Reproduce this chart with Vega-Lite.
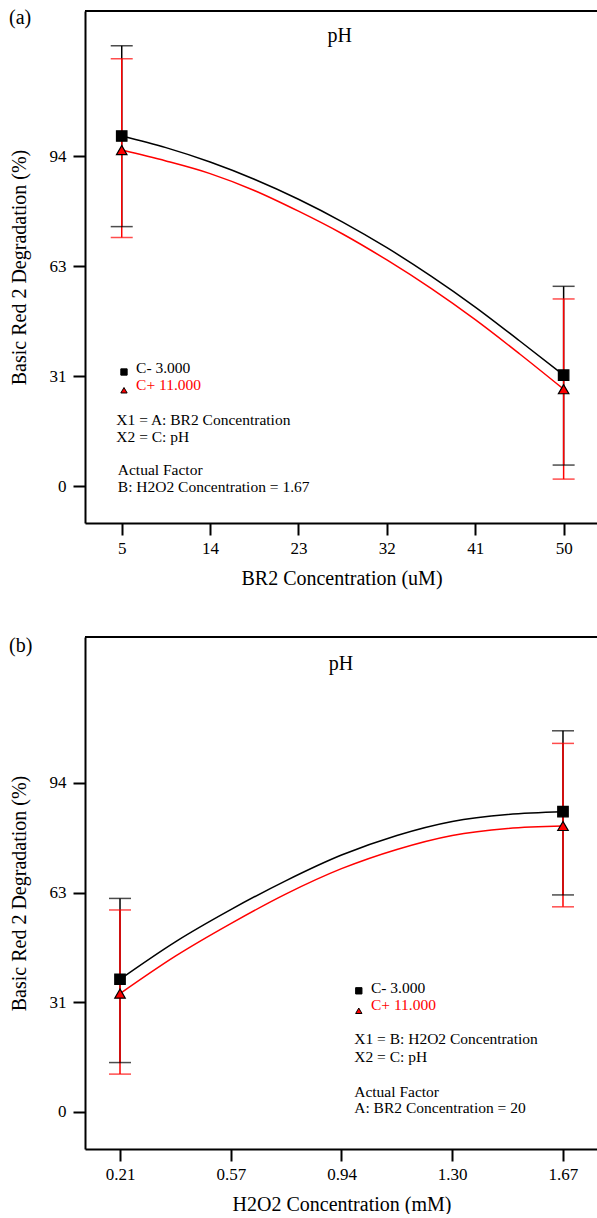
{
  "$schema": "https://vega.github.io/schema/vega-lite/v6.json",
  "background": "white",
  "autosize": {"type": "pad"},
  "padding": {"left": 8, "top": 8, "right": 0, "bottom": 0},
  "spacing": 48,
  "config": {
    "font": "Liberation Serif",
    "view": {"stroke": null},
    "axis": {
      "grid": false,
      "domain": true,
      "domainColor": "black",
      "domainWidth": 2,
      "tickColor": "black",
      "tickWidth": 2,
      "tickSize": 12,
      "labelFont": "Liberation Serif",
      "labelFontSize": 17,
      "labelColor": "black",
      "labelPadding": 7,
      "titleFont": "Liberation Serif",
      "titleFontSize": 20,
      "titleFontWeight": "normal",
      "titleColor": "black"
    },
    "axisY": {"titlePadding": 20},
    "axisX": {"titlePadding": 12, "labelPadding": 5}
  },
  "datasets": {
    "curveA": [
      {"x": 5, "y": 99.7, "s": "C-"}, {"x": 9.5, "y": 96.4, "s": "C-"}, {"x": 14, "y": 92.3, "s": "C-"},
      {"x": 18.5, "y": 87.4, "s": "C-"}, {"x": 23, "y": 81.7, "s": "C-"}, {"x": 27.5, "y": 75.2, "s": "C-"},
      {"x": 32, "y": 67.9, "s": "C-"}, {"x": 36.5, "y": 59.8, "s": "C-"}, {"x": 41, "y": 51.0, "s": "C-"},
      {"x": 45.5, "y": 41.4, "s": "C-"}, {"x": 50, "y": 31.6, "s": "C-"},
      {"x": 5, "y": 95.7, "s": "C+"}, {"x": 9.5, "y": 92.6, "s": "C+"}, {"x": 14, "y": 89.0, "s": "C+"},
      {"x": 18.5, "y": 84.2, "s": "C+"}, {"x": 23, "y": 78.3, "s": "C+"}, {"x": 27.5, "y": 71.8, "s": "C+"},
      {"x": 32, "y": 64.4, "s": "C+"}, {"x": 36.5, "y": 56.3, "s": "C+"}, {"x": 41, "y": 47.4, "s": "C+"},
      {"x": 45.5, "y": 37.7, "s": "C+"}, {"x": 50, "y": 27.6, "s": "C+"}
    ],
    "barA": [
      {"x": 5, "y": 99.7, "lo": 73.9, "hi": 125.4, "s": "C-"},
      {"x": 50, "y": 31.6, "lo": 6.0, "hi": 56.9, "s": "C-"},
      {"x": 5, "y": 95.7, "lo": 70.8, "hi": 121.7, "s": "C+"},
      {"x": 50, "y": 27.6, "lo": 2.0, "hi": 53.3, "s": "C+"}
    ],
    "keyA": [
      {"x": 5.23, "y": 32.5, "s": "C-"},
      {"x": 5.23, "y": 27.3, "s": "C+"}
    ],
    "noteA": [
      {"x": 6.46, "y": 33.6, "t": "C- 3.000", "s": "C-"},
      {"x": 6.46, "y": 28.7, "t": "C+ 11.000", "s": "C+"},
      {"x": 4.45, "y": 18.7, "t": "X1 = A: BR2 Concentration", "s": "note"},
      {"x": 4.45, "y": 14.0, "t": "X2 = C: pH", "s": "note"},
      {"x": 4.6, "y": 4.5, "t": "Actual Factor", "s": "note"},
      {"x": 4.6, "y": -0.3, "t": "B: H2O2 Concentration = 1.67", "s": "note"}
    ],
    "curveB": [
      {"x": 0.21, "y": 37.9, "s": "C-"}, {"x": 0.3925, "y": 48.6, "s": "C-"}, {"x": 0.575, "y": 57.8, "s": "C-"},
      {"x": 0.7575, "y": 66.1, "s": "C-"}, {"x": 0.94, "y": 73.4, "s": "C-"}, {"x": 1.1225, "y": 79.0, "s": "C-"},
      {"x": 1.305, "y": 83.0, "s": "C-"}, {"x": 1.4875, "y": 85.0, "s": "C-"}, {"x": 1.67, "y": 85.8, "s": "C-"},
      {"x": 0.21, "y": 33.8, "s": "C+"}, {"x": 0.3925, "y": 44.5, "s": "C+"}, {"x": 0.575, "y": 53.8, "s": "C+"},
      {"x": 0.7575, "y": 62.3, "s": "C+"}, {"x": 0.94, "y": 69.5, "s": "C+"}, {"x": 1.1225, "y": 75.0, "s": "C+"},
      {"x": 1.305, "y": 79.0, "s": "C+"}, {"x": 1.4875, "y": 81.0, "s": "C+"}, {"x": 1.67, "y": 81.7, "s": "C+"}
    ],
    "barB": [
      {"x": 0.21, "y": 37.9, "lo": 14.1, "hi": 61.0, "s": "C-"},
      {"x": 1.67, "y": 85.8, "lo": 62.0, "hi": 108.9, "s": "C-"},
      {"x": 0.21, "y": 33.8, "lo": 10.8, "hi": 57.7, "s": "C+"},
      {"x": 1.67, "y": 81.7, "lo": 58.6, "hi": 105.3, "s": "C+"}
    ],
    "keyB": [
      {"x": 0.997, "y": 34.6, "s": "C-"},
      {"x": 0.997, "y": 28.9, "s": "C+"}
    ],
    "noteB": [
      {"x": 1.037, "y": 35.5, "t": "C- 3.000", "s": "C-"},
      {"x": 1.037, "y": 30.6, "t": "C+ 11.000", "s": "C+"},
      {"x": 0.982, "y": 20.8, "t": "X1 = B: H2O2 Concentration", "s": "note"},
      {"x": 0.982, "y": 15.7, "t": "X2 = C: pH", "s": "note"},
      {"x": 0.982, "y": 5.8, "t": "Actual Factor", "s": "note"},
      {"x": 0.982, "y": 1.2, "t": "A: BR2 Concentration = 20", "s": "note"}
    ]
  },
  "vconcat": [
    {
      "width": 513,
      "height": 512,
      "encoding": {
        "x": {"field": "x", "type": "quantitative", "title": "BR2 Concentration (uM)",
              "scale": {"domain": [1.26, 53.5], "nice": false, "zero": false},
              "axis": {"values": [5, 14, 23, 32, 41, 50]}},
        "y": {"field": "y", "type": "quantitative", "title": "Basic Red 2 Degradation (%)",
              "scale": {"domain": [-10.5, 135.3], "nice": false, "zero": false},
              "axis": {"values": [0, 31.33, 62.67, 94], "format": ".0f"}}
      },
      "layer": [
        {
          "data": {"values": [{"x": 1.26, "x2": 53.5, "top": 135.3}]},
          "mark": {"type": "rule", "strokeWidth": 2, "color": "black"},
          "encoding": {
            "x2": {"field": "x2"},
            "y": {"field": "top", "type": "quantitative", "title": "Basic Red 2 Degradation (%)"}
          }
        },
        {
          "data": {"name": "curveA"},
          "mark": {"type": "line", "interpolate": "monotone", "strokeWidth": 1.5},
          "encoding": {
            "color": {"field": "s", "type": "nominal", "scale": {"domain": ["C-", "C+", "note"], "range": ["black", "red", "black"]}, "legend": null},
            "detail": {"field": "s"}
          }
        },
        {
          "data": {"name": "barA"},
          "mark": {"type": "rule", "strokeWidth": 1.5},
          "encoding": {
            "y": {"field": "lo", "type": "quantitative", "title": "Basic Red 2 Degradation (%)"},
            "y2": {"field": "hi"},
            "color": {"field": "s", "type": "nominal", "legend": null}
          }
        },
        {
          "data": {"name": "barA"},
          "mark": {"type": "tick", "orient": "horizontal", "size": 22, "thickness": 1.5},
          "encoding": {
            "y": {"field": "lo", "type": "quantitative", "title": "Basic Red 2 Degradation (%)"},
            "color": {"field": "s", "type": "nominal", "legend": null}
          }
        },
        {
          "data": {"name": "barA"},
          "mark": {"type": "tick", "orient": "horizontal", "size": 22, "thickness": 1.5},
          "encoding": {
            "y": {"field": "hi", "type": "quantitative", "title": "Basic Red 2 Degradation (%)"},
            "color": {"field": "s", "type": "nominal", "legend": null}
          }
        },
        {
          "data": {"name": "barA"},
          "mark": {"type": "point", "filled": true, "stroke": "black", "strokeWidth": 1.2, "size": 110, "opacity": 1},
          "encoding": {
            "color": {"field": "s", "type": "nominal", "legend": null},
            "shape": {"field": "s", "type": "nominal", "scale": {"domain": ["C-", "C+"], "range": ["square", "triangle-up"]}, "legend": null}
          }
        },
        {
          "data": {"name": "keyA"},
          "mark": {"type": "point", "filled": true, "stroke": "black", "strokeWidth": 1, "size": 40, "opacity": 1},
          "encoding": {
            "color": {"field": "s", "type": "nominal", "legend": null},
            "shape": {"field": "s", "type": "nominal", "legend": null}
          }
        },
        {
          "data": {"name": "noteA"},
          "mark": {"type": "text", "align": "left", "baseline": "middle", "fontSize": 15.5, "font": "Liberation Serif"},
          "encoding": {
            "text": {"field": "t"},
            "color": {"field": "s", "type": "nominal", "legend": null}
          }
        },
        {
          "data": {"values": [{"x": 27.2, "y": 128.2, "t": "pH"}]},
          "mark": {"type": "text", "align": "center", "baseline": "middle", "fontSize": 20, "font": "Liberation Serif", "color": "black"},
          "encoding": {"text": {"field": "t"}}
        },
        {
          "data": {"values": [{"x": -6.48, "y": 133.3, "t": "(a)"}]},
          "mark": {"type": "text", "align": "left", "baseline": "middle", "fontSize": 20, "font": "Liberation Serif", "color": "black"},
          "encoding": {"text": {"field": "t"}}
        }
      ]
    },
    {
      "width": 513,
      "height": 512,
      "encoding": {
        "x": {"field": "x", "type": "quantitative", "title": "H2O2 Concentration (mM)",
              "scale": {"domain": [0.0946, 1.7854], "nice": false, "zero": false},
              "axis": {"values": [0.21, 0.575, 0.94, 1.305, 1.67], "labelExpr": "format(datum.value - 0.0001, '.2f')"}},
        "y": {"field": "y", "type": "quantitative", "title": "Basic Red 2 Degradation (%)",
              "scale": {"domain": [-10.6, 135.7], "nice": false, "zero": false},
              "axis": {"values": [0, 31.33, 62.67, 94], "format": ".0f"}}
      },
      "layer": [
        {
          "data": {"values": [{"x": 0.0946, "x2": 1.7854, "top": 135.7}]},
          "mark": {"type": "rule", "strokeWidth": 2, "color": "black"},
          "encoding": {
            "x2": {"field": "x2"},
            "y": {"field": "top", "type": "quantitative", "title": "Basic Red 2 Degradation (%)"}
          }
        },
        {
          "data": {"name": "curveB"},
          "mark": {"type": "line", "interpolate": "monotone", "strokeWidth": 1.5},
          "encoding": {
            "color": {"field": "s", "type": "nominal", "scale": {"domain": ["C-", "C+", "note"], "range": ["black", "red", "black"]}, "legend": null},
            "detail": {"field": "s"}
          }
        },
        {
          "data": {"name": "barB"},
          "mark": {"type": "rule", "strokeWidth": 1.5},
          "encoding": {
            "y": {"field": "lo", "type": "quantitative", "title": "Basic Red 2 Degradation (%)"},
            "y2": {"field": "hi"},
            "color": {"field": "s", "type": "nominal", "legend": null}
          }
        },
        {
          "data": {"name": "barB"},
          "mark": {"type": "tick", "orient": "horizontal", "size": 22, "thickness": 1.5},
          "encoding": {
            "y": {"field": "lo", "type": "quantitative", "title": "Basic Red 2 Degradation (%)"},
            "color": {"field": "s", "type": "nominal", "legend": null}
          }
        },
        {
          "data": {"name": "barB"},
          "mark": {"type": "tick", "orient": "horizontal", "size": 22, "thickness": 1.5},
          "encoding": {
            "y": {"field": "hi", "type": "quantitative", "title": "Basic Red 2 Degradation (%)"},
            "color": {"field": "s", "type": "nominal", "legend": null}
          }
        },
        {
          "data": {"name": "barB"},
          "mark": {"type": "point", "filled": true, "stroke": "black", "strokeWidth": 1.2, "size": 110, "opacity": 1},
          "encoding": {
            "color": {"field": "s", "type": "nominal", "legend": null},
            "shape": {"field": "s", "type": "nominal", "scale": {"domain": ["C-", "C+"], "range": ["square", "triangle-up"]}, "legend": null}
          }
        },
        {
          "data": {"name": "keyB"},
          "mark": {"type": "point", "filled": true, "stroke": "black", "strokeWidth": 1, "size": 40, "opacity": 1},
          "encoding": {
            "color": {"field": "s", "type": "nominal", "legend": null},
            "shape": {"field": "s", "type": "nominal", "legend": null}
          }
        },
        {
          "data": {"name": "noteB"},
          "mark": {"type": "text", "align": "left", "baseline": "middle", "fontSize": 15.5, "font": "Liberation Serif"},
          "encoding": {
            "text": {"field": "t"},
            "color": {"field": "s", "type": "nominal", "legend": null}
          }
        },
        {
          "data": {"values": [{"x": 0.938, "y": 128.1, "t": "pH"}]},
          "mark": {"type": "text", "align": "center", "baseline": "middle", "fontSize": 20, "font": "Liberation Serif", "color": "black"},
          "encoding": {"text": {"field": "t"}}
        },
        {
          "data": {"values": [{"x": -0.156, "y": 133.1, "t": "(b)"}]},
          "mark": {"type": "text", "align": "left", "baseline": "middle", "fontSize": 20, "font": "Liberation Serif", "color": "black"},
          "encoding": {"text": {"field": "t"}}
        }
      ]
    }
  ]
}
